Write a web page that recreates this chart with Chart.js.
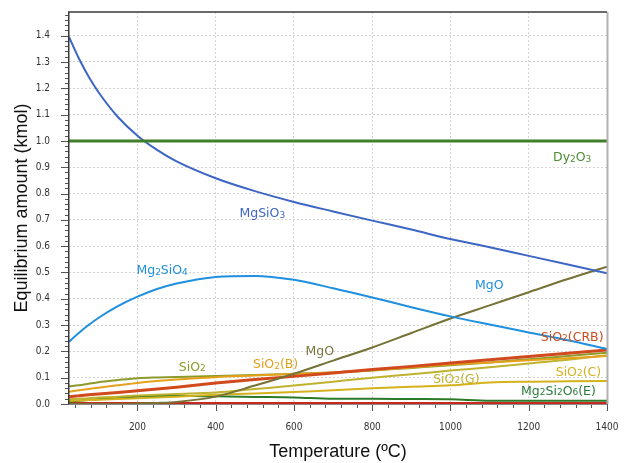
<!DOCTYPE html>
<html>
<head>
<meta charset="utf-8">
<script src="https://cdn.jsdelivr.net/npm/chart.js@4.4.1/dist/chart.umd.min.js"></script>
<style>
html,body{margin:0;padding:0;background:#fff;}
#wrap{width:629px;height:463px;}
</style>
</head>
<body>
<div id="wrap"><canvas id="eqChart" width="629" height="463"></canvas></div>
<script>
// temperature points (ºC)
const temps = [25,50,75,100,150,200,250,300,400,500,600,700,800,900,1000,1100,1200,1300,1400];

// equilibrium amounts (kmol)
const mgsio3   = [1.395,1.314,1.245,1.186,1.091,1.02,0.966,0.922,0.858,0.809,0.768,0.732,0.697,0.663,0.627,0.596,0.563,0.53,0.497];
const mg2sio4  = [0.237,0.27,0.30,0.327,0.372,0.408,0.437,0.458,0.483,0.487,0.472,0.44,0.405,0.368,0.333,0.302,0.272,0.242,0.209];
const dy2o3    = [1,1,1,1,1,1,1,1,1,1,1,1,1,1,1,1,1,1,1];
const mgo      = [0,0,0,0,0,0.002,0.004,0.008,0.028,0.07,0.115,0.165,0.215,0.27,0.325,0.375,0.425,0.475,0.522];
const sio2CRB  = [0.028,0.031,0.035,0.038,0.044,0.05,0.057,0.064,0.08,0.093,0.105,0.118,0.131,0.143,0.156,0.168,0.181,0.193,0.205];
const sio2B    = [0.047,0.052,0.057,0.062,0.071,0.08,0.087,0.093,0.102,0.108,0.114,0.12,0.128,0.139,0.15,0.158,0.166,0.174,0.182];
const sio2     = [0.067,0.071,0.077,0.083,0.091,0.098,0.101,0.103,0.106,0.11,0.115,0.12,0.127,0.137,0.147,0.158,0.17,0.182,0.195];
const sio2G    = [0.018,0.02,0.022,0.025,0.028,0.032,0.035,0.038,0.044,0.057,0.07,0.085,0.1,0.113,0.127,0.14,0.154,0.168,0.185];
const sio2C    = [0.012,0.013,0.015,0.016,0.019,0.022,0.025,0.028,0.035,0.04,0.046,0.052,0.06,0.066,0.071,0.082,0.085,0.086,0.087];
const mg2si2o6 = [0.008,0.012,0.015,0.018,0.024,0.028,0.03,0.031,0.029,0.027,0.025,0.02,0.02,0.019,0.018,0.012,0.012,0.012,0.012];
const baseRed  = [0.002,0.002,0.002,0.002,0.002,0.002,0.002,0.002,0.002,0.002,0.002,0.002,0.002,0.002,0.002,0.002,0.002,0.002,0.002];

// curve labels: text, temperature, amount
const labelTexts = ["MgSiO3","Dy2O3","Mg2SiO4","MgO","MgO","SiO2(CRB)","SiO2(B)","SiO2","SiO2(G)","SiO2(C)","Mg2Si2O6(E)"];
const labelTemps = [519,1311,263,1099,666,1311,553,340,1015,1327,1276];
const labelVals  = [0.722,0.935,0.506,0.449,0.198,0.253,0.148,0.139,0.093,0.12,0.048];
const labelColors = ["#3d66c4","#4c8c34","#1f8fdf","#1f8fdf","#7a7640","#d04a1e","#e6a11c","#8c9a2a","#c0b22e","#d4b21c","#2a7a3a"];

const pts = arr => arr.map((v,i) => ({x: temps[i], y: v}));

function line(label, data, color, width, curve){
    return {
        label,
        data: pts(data),
        borderColor: color,
        borderWidth: width,
        pointRadius: 0,
        fill: false,
        cubicInterpolationMode: curve ? "monotone" : "default",
        tension: 0
    };
}

const isMajorY = v => Math.round(v*100) % 10 === 0;

const tickMarks = {
    id: "tickMarks",
    afterDraw(chart){
        const {ctx, chartArea, scales} = chart;
        ctx.save();
        ctx.strokeStyle = "#555";
        ctx.lineWidth = 1;
        scales.x.ticks.forEach(t => {
            const px = Math.round(scales.x.getPixelForValue(t.value)) + 0.5;
            const len = t.value % 200 === 0 ? 7 : 4;
            ctx.beginPath();
            ctx.moveTo(px, chartArea.bottom);
            ctx.lineTo(px, chartArea.bottom + len);
            ctx.stroke();
        });
        scales.y.ticks.forEach(t => {
            const py = Math.round(scales.y.getPixelForValue(t.value)) + 0.5;
            const len = isMajorY(t.value) ? 8 : 4;
            ctx.beginPath();
            ctx.moveTo(chartArea.left, py);
            ctx.lineTo(chartArea.left - len, py);
            ctx.stroke();
        });
        // frame
        const {left, right, top, bottom} = chartArea;
        ctx.strokeStyle = "#8a8a8a";
        ctx.beginPath(); ctx.moveTo(left, bottom + 0.5); ctx.lineTo(right, bottom + 0.5); ctx.stroke();
        ctx.strokeStyle = "#b0b0b0";
        ctx.lineWidth = 2;
        ctx.beginPath(); ctx.moveTo(right + 0.5, top); ctx.lineTo(right + 0.5, bottom); ctx.stroke();
        ctx.strokeStyle = "#3a3a3a";
        ctx.lineWidth = 1.5;
        ctx.beginPath(); ctx.moveTo(left - 0.25, bottom); ctx.lineTo(left - 0.25, top); ctx.lineTo(right, top); ctx.stroke();
        ctx.restore();
    }
};

const curveLabels = {
    id: "curveLabels",
    afterDatasetsDraw(chart){
        const {ctx, scales} = chart;
        ctx.save();
        ctx.textBaseline = "middle";
        labelTexts.forEach((txt, i) => {
            const cx = scales.x.getPixelForValue(labelTemps[i]);
            const cy = scales.y.getPixelForValue(labelVals[i]);
            const parts = [...txt].map(ch => ({ch, sub: /\d/.test(ch)}));
            let w = 0;
            parts.forEach(p => {
                ctx.font = p.sub ? "9px 'DejaVu Sans'" : "12.5px 'DejaVu Sans'";
                p.w = ctx.measureText(p.ch).width;
                w += p.w;
            });
            let x = cx - w/2;
            ctx.fillStyle = labelColors[i];
            parts.forEach(p => {
                ctx.font = p.sub ? "9px 'DejaVu Sans'" : "12.5px 'DejaVu Sans'";
                ctx.fillText(p.ch, x, p.sub ? cy + 1.5 : cy);
                x += p.w;
            });
        });
        ctx.restore();
    }
};

const tickFont = {family: "'DejaVu Sans Condensed', 'DejaVu Sans'", size: 10};

new Chart(document.getElementById("eqChart").getContext("2d"), {
    type: "line",
    data: {
        datasets: [
            line("Dy2O3", dy2o3, "#3f7f2a", 3, false),
            line("MgSiO3", mgsio3, "#3d66c4", 2, true),
            line("Mg2SiO4", mg2sio4, "#1f8fdf", 2, true),
            line("MgO", mgo, "#767236", 2, true),
            line("SiO2(CRB)", sio2CRB, "#d04a1e", 3, false),
            line("SiO2(B)", sio2B, "#e6a11c", 2, true),
            line("SiO2", sio2, "#8c9a2a", 2, true),
            line("SiO2(G)", sio2G, "#bfb22e", 2, true),
            line("SiO2(C)", sio2C, "#d4b21c", 2, true),
            line("Mg2Si2O6(E)", mg2si2o6, "#2a7a2a", 2, true),
            line("base", baseRed, "#c8281e", 3, false)
        ]
    },
    options: {
        responsive: false,
        devicePixelRatio: 1,
        animation: false,
        layout: {padding: {top: 12, right: 22, bottom: 0, left: 0}},
        plugins: {legend: {display: false}, tooltip: {enabled: false}},
        scales: {
            x: {
                type: "linear",
                min: 25,
                max: 1400,
                afterBuildTicks: scale => {
                    const t = [];
                    for(let v = 40; v <= 1400; v += 40) t.push({value: v});
                    scale.ticks = t;
                },
                afterFit: scale => {
                    scale.height = 59;
                    scale.paddingLeft = 0;
                    scale.paddingRight = 0;
                },
                ticks: {
                    autoSkip: false,
                    maxRotation: 0,
                    padding: 17,
                    color: "#333",
                    font: tickFont,
                    callback: v => v % 200 === 0 ? String(v) : ""
                },
                grid: {
                    drawTicks: false,
                    color: c => c.tick && c.tick.value % 200 === 0 ? "#d4d4d4" : "rgba(0,0,0,0)"
                },
                border: {display: false, dash: [2,2]},
                title: {
                    display: true,
                    text: "Temperature (ºC)",
                    color: "#111",
                    font: {family: "'Liberation Sans'", size: 18},
                    padding: {top: 4, bottom: 0}
                }
            },
            y: {
                min: 0,
                max: 1.49,
                afterBuildTicks: scale => {
                    const t = [];
                    for(let i = 0; i <= 74; i++) t.push({value: Math.round(i*2)/100});
                    scale.ticks = t;
                },
                afterFit: scale => {
                    scale.width = 69;
                    scale.paddingTop = 0;
                    scale.paddingBottom = 0;
                },
                ticks: {
                    autoSkip: false,
                    padding: 19,
                    color: "#333",
                    font: tickFont,
                    callback: v => isMajorY(v) ? v.toFixed(1) : ""
                },
                grid: {
                    drawTicks: false,
                    color: c => c.tick && isMajorY(c.tick.value) ? "#d4d4d4" : "rgba(0,0,0,0)"
                },
                border: {display: false, dash: [2,2]},
                title: {
                    display: true,
                    text: "Equilibrium amount (kmol)",
                    color: "#111",
                    font: {family: "'Liberation Sans'", size: 18},
                    padding: {top: 11, bottom: 0}
                }
            }
        }
    },
    plugins: [tickMarks, curveLabels]
});
</script>
</body>
</html>
